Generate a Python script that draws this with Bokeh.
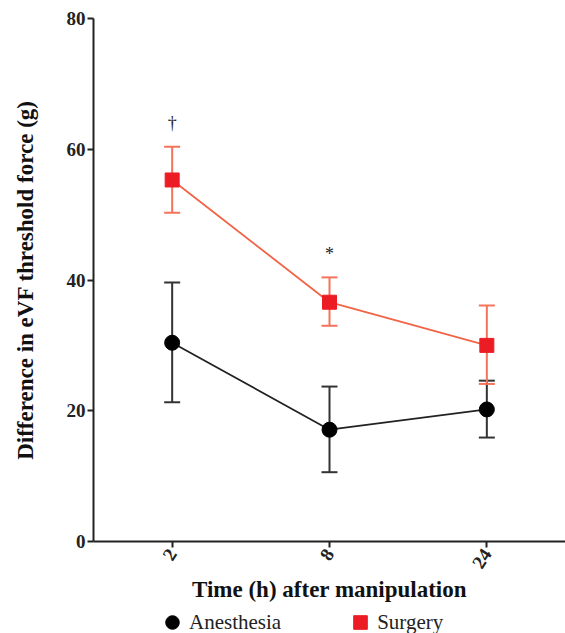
from bokeh.plotting import figure
from bokeh.layouts import column
from bokeh.models import FactorRange, Range1d, Whisker, ColumnDataSource, Legend, LegendItem, FixedTicker, TeeHead
from bokeh.core.properties import value
from bokeh.embed import file_html
from bokeh.resources import INLINE

times = ["2", "8", "24"]
anes_mean = [30.4, 17.1, 20.2]
anes_upper = [39.6, 23.7, 24.6]
anes_lower = [21.3, 10.6, 15.9]
surg_mean = [55.3, 36.6, 30.0]
surg_upper = [60.4, 40.4, 36.1]
surg_lower = [50.3, 33.0, 24.1]
marks = ["†", "*", ""]
mark_y = [64.0, 44.0, 0.0]
series_names = ["Anesthesia", "Surgery"]

FONT = "Liberation Serif"
BLACK = "#000000"
RED = "#ec1c24"

p = figure(width=565, height=605, x_range=FactorRange(factors=times, range_padding=0),
           y_range=Range1d(0, 80), output_backend="svg", toolbar_location=None,
           min_border_left=93, min_border_right=0, min_border_top=18, min_border_bottom=64)
p.outline_line_color = None
p.xgrid.grid_line_color = None
p.ygrid.grid_line_color = None

for ax in (p.xaxis[0], p.yaxis[0]):
    ax.axis_line_width = 2
    ax.axis_line_color = "#222222"
    ax.major_tick_line_width = 2
    ax.major_tick_line_color = "#222222"
    ax.major_tick_out = 6
    ax.major_tick_in = 0
    ax.minor_tick_line_color = None
    ax.major_label_text_font = FONT
    ax.major_label_text_font_style = "bold"
    ax.major_label_text_font_size = "19px"
    ax.major_label_text_color = "#222222"
    ax.axis_label_text_font = FONT
    ax.axis_label_text_font_style = "bold"
    ax.axis_label_text_color = "#111111"

p.yaxis.ticker = FixedTicker(ticks=[0, 20, 40, 60, 80])
p.yaxis.axis_label = "Difference in eVF threshold force (g)"
p.yaxis.axis_label_text_font_size = "23px"
p.yaxis.axis_label_standoff = 26
p.yaxis.major_label_standoff = 2

p.xaxis.axis_label = "Time (h) after manipulation"
p.xaxis.axis_label_text_font_size = "23px"
p.xaxis.major_label_orientation = 1.0
p.xaxis.axis_label_standoff = 0
p.xaxis.major_label_standoff = 3

anes = ColumnDataSource(dict(x=times, m=anes_mean, u=anes_upper, l=anes_lower))
surg = ColumnDataSource(dict(x=times, m=surg_mean, u=surg_upper, l=surg_lower))

wa = Whisker(source=anes, base="x", upper="u", lower="l", line_color="#333333", line_width=2,
             upper_head=TeeHead(size=16, line_color="#333333", line_width=2),
             lower_head=TeeHead(size=16, line_color="#333333", line_width=2))
p.add_layout(wa)
p.line("x", "m", source=anes, line_color="#222222", line_width=1.8)
p.scatter("x", "m", source=anes, marker="circle", size=15, fill_color=BLACK, line_color=BLACK)

ws = Whisker(source=surg, base="x", upper="u", lower="l", line_color="#f4735a", line_width=2,
             upper_head=TeeHead(size=16, line_color="#f4735a", line_width=2),
             lower_head=TeeHead(size=16, line_color="#f4735a", line_width=2))
p.add_layout(ws)
p.line("x", "m", source=surg, line_color="#f26446", line_width=1.8)
p.scatter("x", "m", source=surg, marker="square", size=14, fill_color=RED, line_color=RED)

p.text(x=times, y=mark_y, text=marks, text_font=value(FONT), text_font_size="18px",
       text_align="center", text_baseline="middle", text_color="#222222")

# legend strip below the chart (series renderers hidden; only their legend glyphs show)
lg = figure(width=565, height=28, x_range=FactorRange(factors=times, range_padding=0),
            y_range=Range1d(0, 80), output_backend="svg", toolbar_location=None,
            x_axis_type=None, y_axis_type=None,
            min_border_left=0, min_border_right=0, min_border_top=0, min_border_bottom=0)
lg.outline_line_color = None
lg.xgrid.grid_line_color = None
lg.ygrid.grid_line_color = None
ra = lg.scatter("x", "m", source=anes, marker="circle", size=14, fill_color=BLACK, line_color=BLACK)
rs = lg.scatter("x", "m", source=surg, marker="square", size=13, fill_color=RED, line_color=RED)
ra.visible = False
rs.visible = False
legend = Legend(items=[LegendItem(label=series_names[0], renderers=[ra]),
                       LegendItem(label=series_names[1], renderers=[rs])],
                orientation="horizontal", location=(62, -6),
                label_text_font=FONT, label_text_font_size="21px", label_text_color="#222222",
                background_fill_alpha=0, border_line_color=None, padding=0, margin=0,
                inactive_fill_alpha=0, click_policy="none",
                spacing=62, label_standoff=0, glyph_width=34, glyph_height=34)
lg.add_layout(legend, "center")

layout = column(p, lg, spacing=0)
open("out.html", "w").write(file_html(layout, INLINE))
